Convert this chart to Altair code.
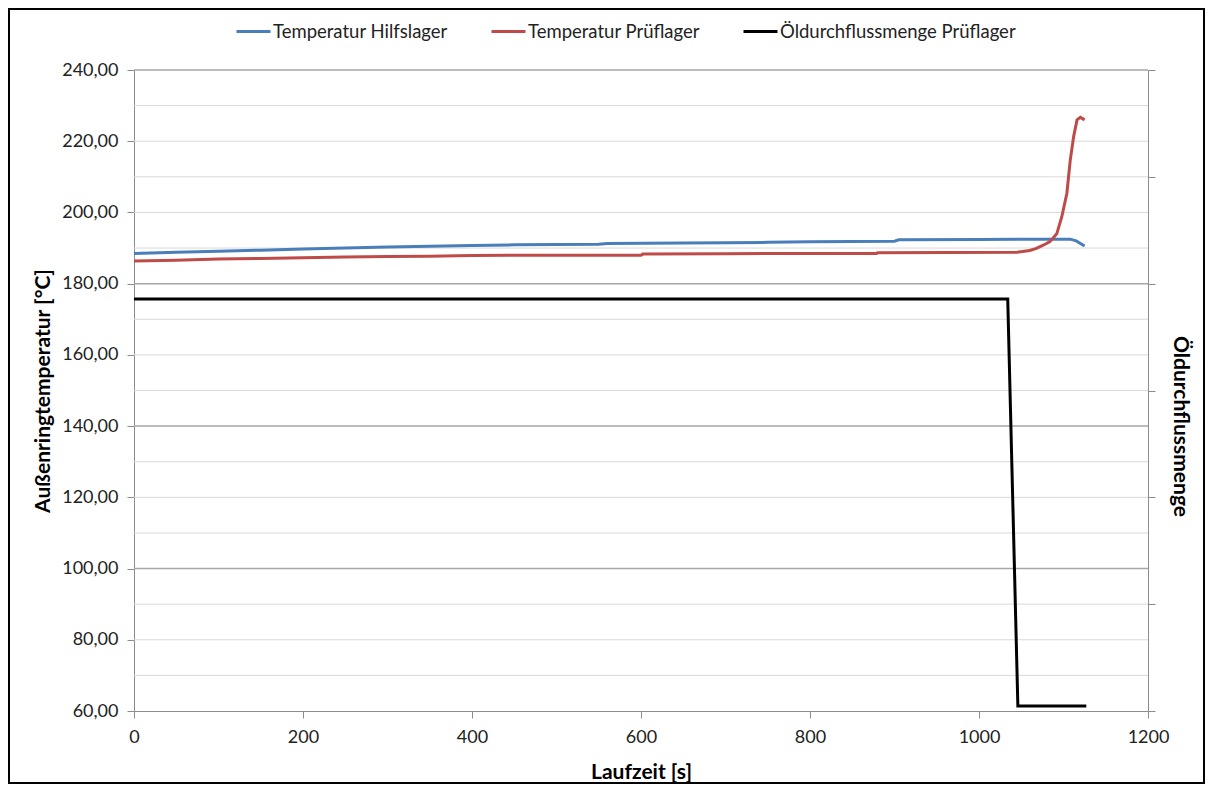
import altair as alt
import pandas as pd

# ---- data ----
blue_t = [0, 50, 100, 150, 200, 250, 300, 350, 400, 450, 500, 550, 560, 650, 700, 750, 800, 900, 905, 1000, 1045, 1108, 1115, 1125]
blue_v = [188.5, 188.8, 189.1, 189.4, 189.7, 190.0, 190.3, 190.5, 190.7, 190.9, 191.0, 191.1, 191.3, 191.4, 191.5, 191.6, 191.8, 191.9, 192.3, 192.4, 192.5, 192.5, 192.0, 190.6]

red_t = [0, 50, 100, 150, 200, 250, 300, 350, 400, 450, 500, 600, 602, 700, 800, 879, 880, 1045, 1060, 1068, 1076, 1084, 1092, 1098, 1104, 1108, 1112, 1116, 1120, 1125]
red_v = [186.4, 186.6, 186.9, 187.1, 187.3, 187.5, 187.6, 187.7, 187.9, 188.0, 188.0, 188.0, 188.3, 188.4, 188.5, 188.5, 188.7, 188.8, 189.3, 189.9, 190.8, 191.8, 194.0, 198.8, 205.4, 214.7, 221.3, 226.0, 226.7, 226.0]

oil_t = [0, 1034, 1046, 1127]
oil_v = [175.7, 175.7, 61.4, 61.4]

series = ["Temperatur Hilfslager", "Temperatur Prüflager", "Öldurchflussmenge Prüflager"]
colors = ["#4a7ebb", "#be4b48", "#000000"]

grid_light = [70, 80, 90, 110, 120, 130, 150, 160, 170, 190, 200, 210, 220, 230]
grid_dark = [100, 140, 180, 240]
x_ticks = [0, 200, 400, 600, 800, 1000, 1200]
y_ticks = [60, 80, 100, 120, 140, 160, 180, 200, 220, 240]
right_ticks = [60, 90, 120, 150, 180, 210, 240]

FONT = "Lato"
W, H = 1014, 641

temp_df = pd.concat([
    pd.DataFrame({"t": blue_t, "v": blue_v, "Reihe": series[0]}),
    pd.DataFrame({"t": red_t, "v": red_v, "Reihe": series[1]}),
])
oil_df = pd.DataFrame({"t": oil_t, "v": oil_v, "Reihe": series[2]})

color = alt.Color("Reihe:N", scale=alt.Scale(domain=series, range=colors),
                  legend=alt.Legend(title=None, orient="none", direction="horizontal",
                                    legendX=101, legendY=-57, symbolType="stroke",
                                    symbolSize=1156, symbolStrokeWidth=3,
                                    labelFontSize=18.5, labelFont=FONT, labelColor="#222",
                                    labelLimit=400, columnPadding=37, labelOffset=1))

xscale = alt.Scale(domain=[0, 1200], nice=False)
yscale = alt.Scale(domain=[60, 240], nice=False, zero=False)
y_axis = alt.Axis(values=y_ticks, title="Außenringtemperatur [°C]", grid=False,
                  labelExpr="replace(format(datum.value, '.2f'), '.', ',')",
                  tickSize=7, labelPadding=9, titlePadding=8, labelFlush=False)

grid1 = alt.Chart(pd.DataFrame({"g": grid_light})).mark_rule(color="#d9d9d9", strokeWidth=1).encode(
    y=alt.Y("g:Q", scale=yscale, axis=y_axis))
grid2 = alt.Chart(pd.DataFrame({"g": grid_dark})).mark_rule(color="#a6a6a6", strokeWidth=1.5).encode(
    y=alt.Y("g:Q", scale=yscale, axis=y_axis))

border = alt.Chart(pd.DataFrame({"a": [0]})).mark_rect(fill=None, stroke="#000", strokeWidth=2).encode(
    x=alt.value(-125), x2=alt.value(W + 56), y=alt.value(-61), y2=alt.value(H + 72))

temp = alt.Chart(temp_df).mark_line(strokeWidth=3).encode(
    x=alt.X("t:Q", scale=xscale,
            axis=alt.Axis(values=x_ticks, title="Laufzeit [s]", grid=False, format="d",
                          tickSize=7, labelPadding=10, titlePadding=15, labelFlush=False)),
    y=alt.Y("v:Q", scale=yscale, axis=y_axis),
    color=color,
    detail="Reihe:N",
)

left = alt.layer(grid1, grid2, temp, border)

oil = alt.Chart(oil_df).mark_line(strokeWidth=3).encode(
    x=alt.X("t:Q", scale=xscale),
    y=alt.Y("v:Q", scale=alt.Scale(domain=[60, 240], nice=False, zero=False),
            axis=alt.Axis(orient="right", values=right_ticks, labels=False, grid=False,
                          title="Öldurchflussmenge", tickSize=7, titlePadding=14,
                          titleY=356)),
    color=color,
)

chart = alt.layer(left, oil).resolve_scale(y="independent").properties(
    width=W, height=H,
    autosize=alt.AutoSizeParams(type="none"),
    padding={"left": 126, "top": 62, "right": 57, "bottom": 74},
).configure_view(stroke=None).configure_axis(
    domainColor="#8c8c8c", tickColor="#8c8c8c", labelFont=FONT, titleFont=FONT,
    labelFontSize=18, titleFontSize=21, labelColor="#222", titleColor="#000",
    titleFontWeight="bold",
)

chart.save("out.html", embed_options={"renderer": "svg", "actions": False})
